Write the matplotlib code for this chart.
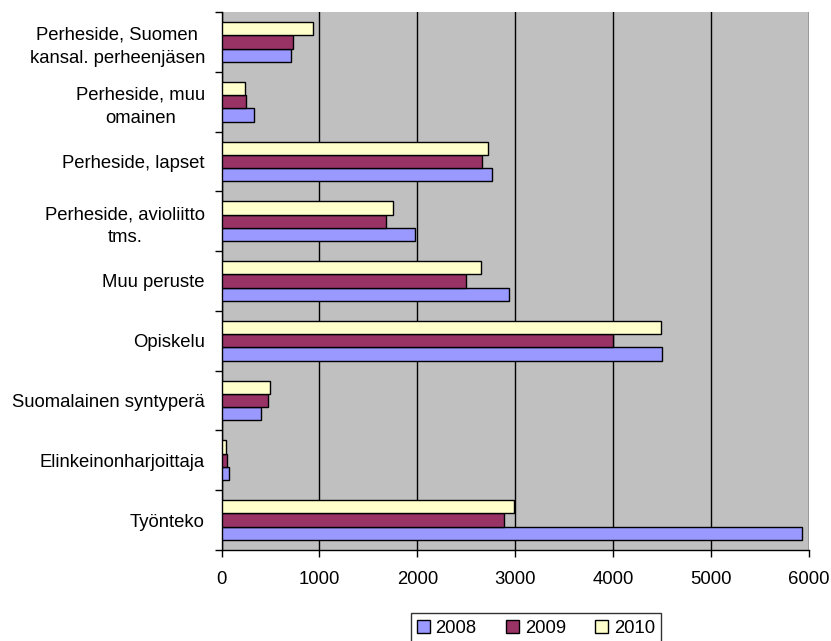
import numpy as np
import matplotlib.pyplot as plt
from matplotlib.ticker import MultipleLocator, FixedLocator

plt.rcParams['font.family'] = ['Liberation Sans', 'DejaVu Sans']

# Residence permit grounds, bottom to top
categories = [
    "Työnteko",
    "Elinkeinonharjoittaja",
    "Suomalainen syntyperä",
    "Opiskelu",
    "Muu peruste",
    "Perheside, avioliitto\ntms.",
    "Perheside, lapset",
    "Perheside, muu\nomainen",
    "Perheside, Suomen\nkansal. perheenjäsen",
]
years = ["2008", "2009", "2010"]
values_2008 = [5930, 80, 403, 4500, 2940, 1978, 2763, 329, 712]
values_2009 = [2880, 59, 478, 4000, 2495, 1682, 2658, 253, 730]
values_2010 = [2986, 46, 492, 4485, 2645, 1753, 2719, 237, 937]
colors = ["#9999FF", "#993366", "#FFFFCC"]

fig = plt.figure(figsize=(8.31, 6.41), dpi=100)
ax = fig.add_axes([0.2666, 0.142, 0.7070, 0.8393])
ax.set_facecolor("#C0C0C0")

y = np.arange(len(categories))
h = 0.222
for i, (vals, col, lab) in enumerate(zip([values_2008, values_2009, values_2010], colors, years)):
    ax.barh(y + (i - 1) * h, vals, height=h, color=col, edgecolor="black",
            linewidth=1.0, label=lab, zorder=3)

ax.set_xlim(0, 6000)
ax.set_ylim(-0.5, len(categories) - 0.5)
ax.xaxis.set_major_locator(MultipleLocator(1000))
ax.grid(axis="x", color="black", linewidth=1.0, zorder=1)
ax.set_axisbelow(True)

# category labels at centres, tick marks at the boundaries
ax.set_yticks(y)
ax.set_yticklabels(categories, fontsize=13.3)
for lbl in ax.get_yticklabels():
    lbl.set_multialignment("center")
    lbl.set_linespacing(1.45)
ax.tick_params(axis="y", which="major", length=0, pad=12)
ax.yaxis.set_minor_locator(FixedLocator(np.arange(-0.5, len(categories), 1.0)))
ax.tick_params(axis="y", which="minor", length=5, width=1.0, color="black")

ax.tick_params(axis="x", which="major", length=5, width=1.0, labelsize=13.3, pad=10)

for side in ["left", "bottom"]:
    ax.spines[side].set_color("black")
    ax.spines[side].set_linewidth(1.0)
ax.spines["top"].set_visible(False)
ax.spines["right"].set_visible(False)

leg = fig.legend(loc="lower center", bbox_to_anchor=(0.645, -0.018), ncol=3,
                 fontsize=13.3, frameon=True, fancybox=False, edgecolor="black",
                 handlelength=0.7, handleheight=0.7, handletextpad=0.3,
                 columnspacing=1.6, borderpad=0.35)
leg.get_frame().set_linewidth(1.0)

fig.savefig("out.png", dpi=100)
